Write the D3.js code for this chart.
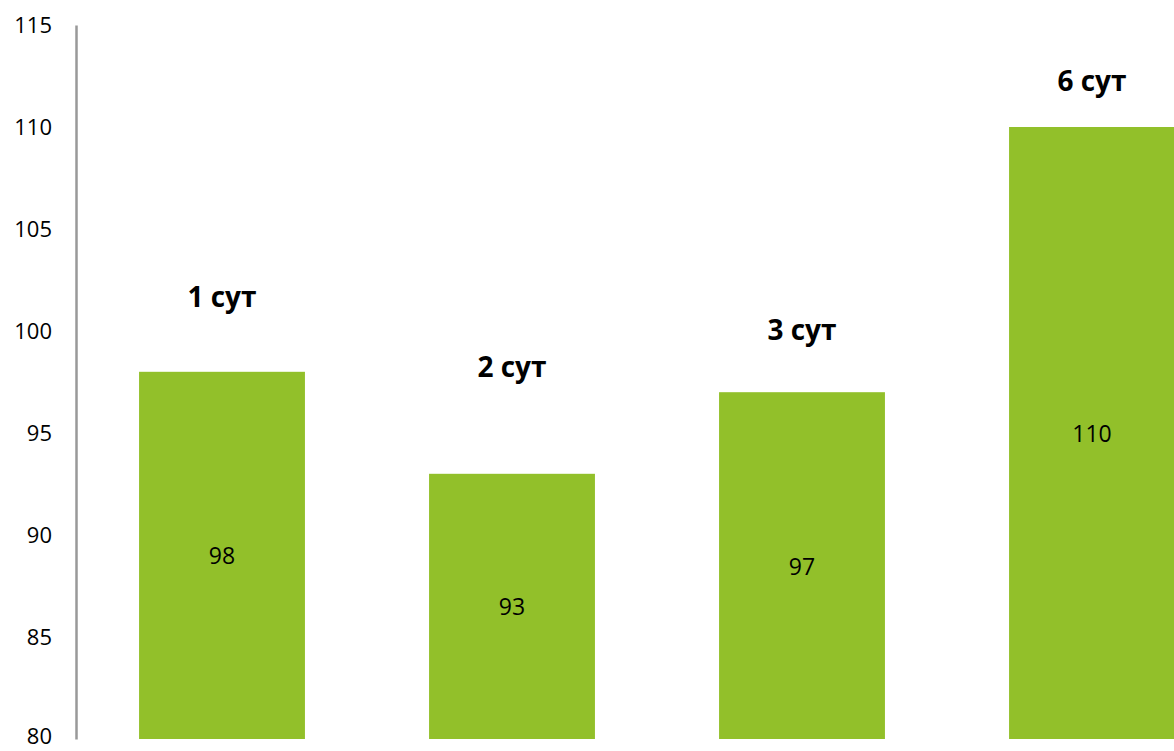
<!DOCTYPE html>
<html>
<head>
<meta charset="utf-8">
<script src="https://cdn.jsdelivr.net/npm/d3@7"></script>
<style>
  html, body { margin: 0; padding: 0; background: #fff; }
  svg { display: block; font-family: "Open Sans", "Noto Sans", sans-serif; }
</style>
</head>
<body>
<svg id="chart" width="1174" height="751"></svg>
<script>
/* ── Data ─────────────────────────────────────────────────────────────── */
const categories = ['1 сут', '2 сут', '3 сут', '6 сут'];
const values     = [98, 93, 97, 110];
// where each category caption sits, in value units
const labelAt    = [101.7, 98.3, 100.1, 112.3];
const yTicks     = [80, 85, 90, 95, 100, 105, 110, 115];

/* ── Layout ───────────────────────────────────────────────────────────── */
const W = 1174, H = 751;
const M = { t: 25, b: 12, l: 77 };
const svg = d3.select('#chart');

const y = d3.scaleLinear().domain([80, 115]).range([H - M.b, M.t]);
const x = d3.scaleBand().domain(categories)
  .range([M.l, M.l + 290 * categories.length])
  .paddingInner(0.428).paddingOuter(0.214);

/* ── Axis ─────────────────────────────────────────────────────────────── */
const ax = svg.append('g').attr('transform', `translate(${M.l - 1},0)`)
  .call(d3.axisLeft(y).tickValues(yTicks).tickSize(0).tickPadding(24));
ax.select('.domain').attr('stroke', '#999').attr('stroke-width', 2.5);
ax.selectAll('text').attr('fill', '#000').style('font-size', '22px')
  .style('font-family', '"Open Sans", "Noto Sans", sans-serif');
// lowest label sits on the bottom edge; lift it just enough to stay whole
ax.selectAll('.tick').filter(d => d === 80).select('text').attr('dy', '0.2em');

/* ── Bars ─────────────────────────────────────────────────────────────── */
const g = svg.append('g');
g.selectAll('rect').data(values).join('rect')
  .attr('x', (d, i) => x(categories[i]))
  .attr('width', x.bandwidth())
  .attr('y', d => y(d))
  .attr('height', d => y(80) - y(d))
  .attr('fill', '#92C02A');

g.selectAll('text.val').data(values).join('text')
  .attr('class', 'val')
  .attr('x', (d, i) => x(categories[i]) + x.bandwidth() / 2)
  .attr('y', d => (y(d) + y(80)) / 2)
  .attr('text-anchor', 'middle').attr('dominant-baseline', 'central')
  .style('font-size', '23px').attr('fill', '#000')
  .text(d => d);

g.selectAll('text.cat').data(categories).join('text')
  .attr('class', 'cat')
  .attr('x', d => x(d) + x.bandwidth() / 2)
  .attr('y', (d, i) => y(labelAt[i]))
  .attr('text-anchor', 'middle').attr('dominant-baseline', 'central')
  .style('font-size', '28px').style('font-weight', 'bold').attr('fill', '#000')
  .text(d => d);
</script>
</body>
</html>
